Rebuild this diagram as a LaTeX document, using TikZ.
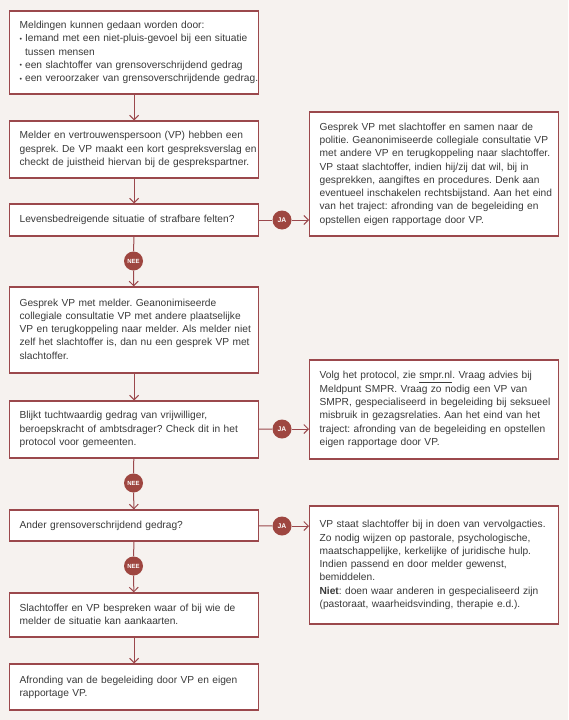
\documentclass[tikz,border=0pt]{standalone}
\usepackage{fontspec}
\setmainfont{Liberation Sans}
\usetikzlibrary{arrows.meta}
\definecolor{bg}{RGB}{246,242,239}
\definecolor{frame}{RGB}{155,72,76}
\definecolor{dot}{RGB}{158,70,64}
\definecolor{txt}{RGB}{58,58,58}
\tikzset{
  x=1pt, y=-1pt,
  box/.style={draw=frame, line width=1.2pt, fill=white, anchor=west,
    text width=229pt, inner xsep=10pt, inner ysep=0pt, align=left,
    text=txt, font=\fontsize{10.2pt}{13.3pt}\selectfont\frenchspacing},
  ja/.style={circle, fill=dot, minimum size=19pt, inner sep=0pt,
    text=white, font=\fontsize{6.8pt}{7pt}\selectfont\bfseries},
  nee/.style={ja, font=\fontsize{6pt}{6pt}\selectfont\bfseries},
  conn/.style={draw=frame, line width=1pt},
  arr/.style={conn, -{Straight Barb[length=4.5pt,width=9pt]}},
}
\newcommand{\bul}{\makebox[5.5pt][l]{\fontsize{7pt}{7pt}\selectfont\raisebox{0.5pt}{•}}}
\newcommand{\txtlines}[1]{\begin{tabular}{@{}l@{}}#1\end{tabular}}
\begin{document}
\begin{tikzpicture}
\fill[bg] (0,0) rectangle (568,720);
\useasboundingbox (0,0) rectangle (568,720);

\node[box, minimum height=83pt] (b1) at (9,52.5) {\txtlines{Meldingen kunnen gedaan worden door:\\
\bul Iemand met een niet-pluis-gevoel bij een situatie\\
\hspace*{5.5pt}tussen mensen\\
\bul een slachtoffer van grensoverschrijdend gedrag\\
\bul een veroorzaker van grensoverschrijdende gedrag.}};

\node[box, minimum height=57pt] (b2) at (9,149.5) {\txtlines{Melder en vertrouwenspersoon (VP) hebben een\\
gesprek. De VP maakt een kort gespreksverslag en\\
checkt de juistheid hiervan bij de gesprekspartner.}};

\node[box, minimum height=32pt] (b3) at (9,220) {\txtlines{Levensbedreigende situatie of strafbare felten?}};

\node[box, minimum height=86pt] (b4) at (9,330) {\txtlines{Gesprek VP met melder. Geanonimiseerde\\
collegiale consultatie VP met andere plaatselijke\\
VP en terugkoppeling naar melder. Als melder niet\\
zelf het slachtoffer is, dan nu een gesprek VP met\\
slachtoffer.}};

\node[box, minimum height=57pt] (b5) at (9,429.5) {\txtlines{Blijkt tuchtwaardig gedrag van vrijwilliger,\\
beroepskracht of ambtsdrager? Check dit in het\\
protocol voor gemeenten.}};

\node[box, minimum height=31pt] (b6) at (9,525.5) {\txtlines{Ander grensoverschrijdend gedrag?}};

\node[box, minimum height=44pt] (b7) at (9,615) {\txtlines{Slachtoffer en VP bespreken waar of bij wie de\\
melder de situatie kan aankaarten.}};

\node[box, minimum height=46pt] (b8) at (9,687) {\txtlines{Afronding van de begeleiding door VP en eigen\\
rapportage VP.}};

\node[box, minimum height=124pt] (r1) at (309,174) {\txtlines{Gesprek VP met slachtoffer en samen naar de\\
politie. Geanonimiseerde collegiale consultatie VP\\
met andere VP en terugkoppeling naar slachtoffer.\\
VP staat slachtoffer, indien hij/zij dat wil, bij in\\
gesprekken, aangiftes en procedures. Denk aan\\
eventueel inschakelen rechtsbijstand. Aan het eind\\
van het traject: afronding van de begeleiding en\\
opstellen eigen rapportage door VP.}};

\node[box, minimum height=99pt] (r2) at (309,409.5) {\txtlines{Volg het protocol, zie \underline{smpr.nl}. Vraag advies bij\\
Meldpunt SMPR. Vraag zo nodig een VP van\\
SMPR, gespecialiseerd in begeleiding bij seksueel\\
misbruik in gezagsrelaties. Aan het eind van het\\
traject: afronding van de begeleiding en opstellen\\
eigen rapportage door VP.}};

\node[box, minimum height=118pt] (r3) at (309,565) {\txtlines{VP staat slachtoffer bij in doen van vervolgacties.\\
Zo nodig wijzen op pastorale, psychologische,\\
maatschappelijke, kerkelijke of juridische hulp.\\
Indien passend en door melder gewenst,\\
bemiddelen.\\
\textbf{Niet}: doen waar anderen in gespecialiseerd zijn\\
(pastoraat, waarheidsvinding, therapie e.d.).}};

\node[ja] (ja1) at (282,220) {JA};
\node[ja] (ja2) at (282,429) {JA};
\node[ja] (ja3) at (282,526) {JA};
\node[nee] (nee1) at (133.5,261) {NEE};
\node[nee] (nee2) at (133.5,483) {NEE};
\node[nee] (nee3) at (133.5,566) {NEE};

\draw[arr] (b1) -- (b2);
\draw[arr] (b2) -- (b3);
\draw[conn] (b3) -- (nee1);
\draw[arr] (nee1) -- (b4);
\draw[arr] (b4) -- (b5);
\draw[conn] (b5) -- (nee2);
\draw[arr] (nee2) -- (b6);
\draw[conn] (b6) -- (nee3);
\draw[arr] (nee3) -- (b7);
\draw[arr] (b7) -- (b8);

\draw[conn] (b3) -- (ja1);
\draw[arr] (ja1) -- (ja1 -| r1.west);
\draw[conn] (b5) -- (ja2);
\draw[arr] (ja2) -- (ja2 -| r2.west);
\draw[conn] (b6) -- (ja3);
\draw[arr] (ja3) -- (ja3 -| r3.west);
\end{tikzpicture}
\end{document}
